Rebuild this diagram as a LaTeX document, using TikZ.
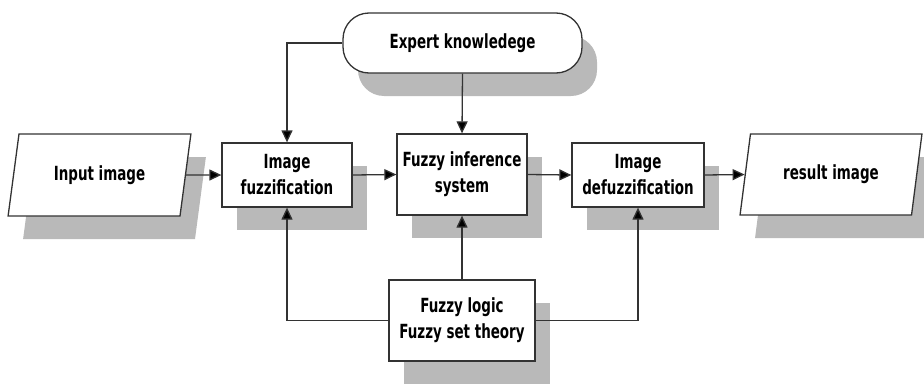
\documentclass[tikz,border=0pt]{standalone}
\usepackage{fontspec}
\newfontfamily\diagfont{DejaVu Sans}[FakeStretch=0.69]
\usetikzlibrary{arrows.meta,shapes.geometric,shadows}
\begin{document}
\begin{tikzpicture}[x=1pt,y=-1pt,
  shade/.style={drop shadow={shadow xshift=15pt,shadow yshift=-23pt,fill=gray!55,opacity=1}},
  boxnode/.style={draw=black!80,line width=1.3pt,fill=white,shade,align=center,
    inner sep=0pt,text=black,font=\diagfont\bfseries\fontsize{19.5pt}{26pt}\selectfont},
  para/.style={boxnode,trapezium,trapezium left angle=72,trapezium right angle=108,
    trapezium stretches=true},
  conn/.style={draw=black!80,line width=1.3pt,-{Triangle[length=12pt,width=11pt,fill=black]}}]
\useasboundingbox (0,0) rectangle (924,383);
\node[para,minimum width=183pt,minimum height=82pt] (in) at (99.5,175) {Input image};
\node[boxnode,minimum width=130pt,minimum height=64pt] (fuz) at (287,175) {Image\\fuzzification};
\node[boxnode,minimum width=130pt,minimum height=81pt] (inf) at (462,174.5) {Fuzzy inference\\system};
\node[boxnode,minimum width=132pt,minimum height=64pt] (def) at (638,175) {Image\\defuzzification};
\node[para,minimum width=182pt,minimum height=81pt] (res) at (831,174.5) {result image};
\node[boxnode,rounded corners=26pt,minimum width=239pt,minimum height=60pt] (exp) at (462.5,43) {Expert knowledege};
\node[boxnode,minimum width=146pt,minimum height=81pt] (fl) at (462,320.5) {Fuzzy logic\\Fuzzy set theory};
\draw[conn] (in.east) -- (fuz.west);
\draw[conn] (fuz.east) -- (inf.west);
\draw[conn] (inf.east) -- (def.west);
\draw[conn] (def.east) -- (res.west);
\draw[conn] (exp.west) -| (fuz.north);
\draw[conn] (exp.south) -- (inf.north);
\draw[conn] (fl.north) -- (inf.south);
\draw[conn] (fl.west) -| (fuz.south);
\draw[conn] (fl.east) -| (def.south);
\end{tikzpicture}
\end{document}
